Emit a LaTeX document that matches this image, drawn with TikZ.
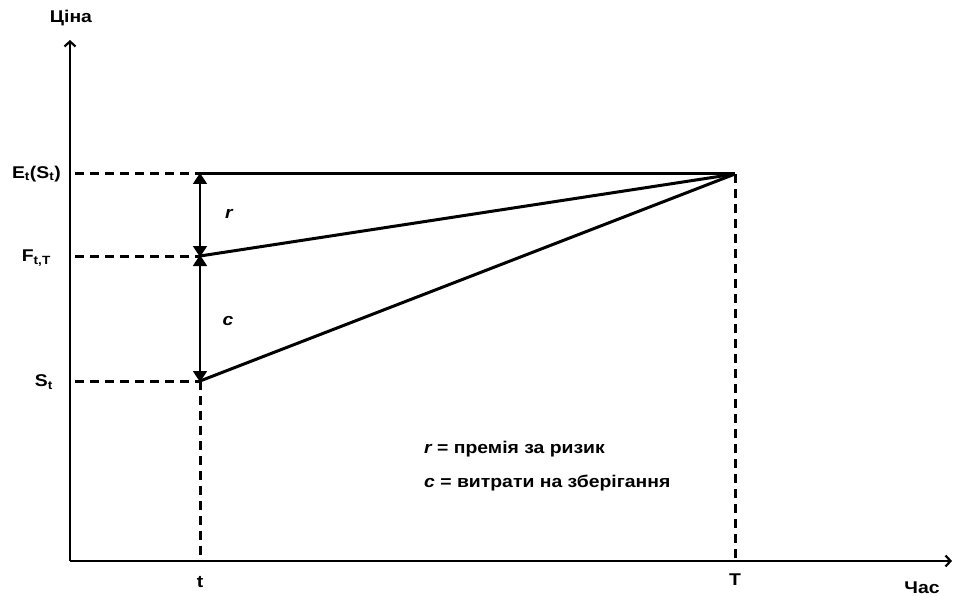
\documentclass[tikz,border=0pt]{standalone}
\usepackage{fontspec}
\setmainfont{Liberation Sans}[FakeStretch=1.14]
\usetikzlibrary{arrows.meta}
\begin{document}
\begin{tikzpicture}[x=1pt,y=-1pt,
  lbl/.style={font=\fontsize{17}{19}\selectfont\bfseries, inner sep=0pt},
  axis/.style={line width=2.2pt},
  guide/.style={line width=3pt, dash pattern=on 9pt off 6pt},
  solidln/.style={line width=3pt},
  dimarr/.style={line width=1.8pt, {Triangle[width=14pt,length=11pt]}-{Triangle[width=14pt,length=11pt]}, shorten <=-1pt, shorten >=-1pt}]
\useasboundingbox (0,0) rectangle (955,596);
% axes
\coordinate (O) at (70,561);
\coordinate (Ytop) at (70,40);
\coordinate (Xend) at (952,561);
\draw[axis,-{Straight Barb[length=5pt,width=11pt]}] (O) -- (Ytop);
\draw[axis,-{Straight Barb[length=5pt,width=11pt]}] (O) -- (Xend);
\node[lbl] (ylab) at (71,18) {Ціна};
\node[lbl] (xlab) at (922,588) {Час};
% points
\coordinate (E0) at (75,174);
\coordinate (F0) at (75,256);
\coordinate (S0) at (75,381);
\coordinate (Et) at (200,174);
\coordinate (Ft) at (200,256);
\coordinate (St) at (200,381);
\coordinate (ET) at (735,174);
\coordinate (tb) at (200,561);
\coordinate (Tb) at (735,561);
% labels
\node[lbl,anchor=east] (elab) at (61,174) {E\textsubscript{t}(S\textsubscript{t})};
\node[lbl,anchor=east] (flab) at (51,258) {F\textsubscript{t,T}};
\node[lbl,anchor=east] (slab) at (53,382) {S\textsubscript{t}};
\node[lbl] (tlab) at (200,582) {t};
\node[lbl] (Tlab) at (735,580) {T};
% dashed guides
\draw[guide] (E0) -- (Et);
\draw[guide] (F0) -- (Ft);
\draw[guide] (S0) -- (St);
\draw[guide] (St) -- (tb);
\draw[guide] (ET) -- (Tb);
% solid lines
\draw[solidln] (Et) -- (ET);
\draw[solidln] (Ft) -- (ET);
\draw[solidln] (St) -- (ET);
% dimension arrows
\draw[dimarr] (Et) -- (Ft);
\draw[dimarr] (Ft) -- (St);
\node[lbl] (rlab) at (229,214) {\itshape r};
\node[lbl] (clab) at (228,321) {\itshape c};
% legend
\node[lbl,anchor=west] (leg1) at (424,449) {{\itshape r} = премія за ризик};
\node[lbl,anchor=west] (leg2) at (424,483) {{\itshape c} = витрати на зберігання};
\end{tikzpicture}
\end{document}
